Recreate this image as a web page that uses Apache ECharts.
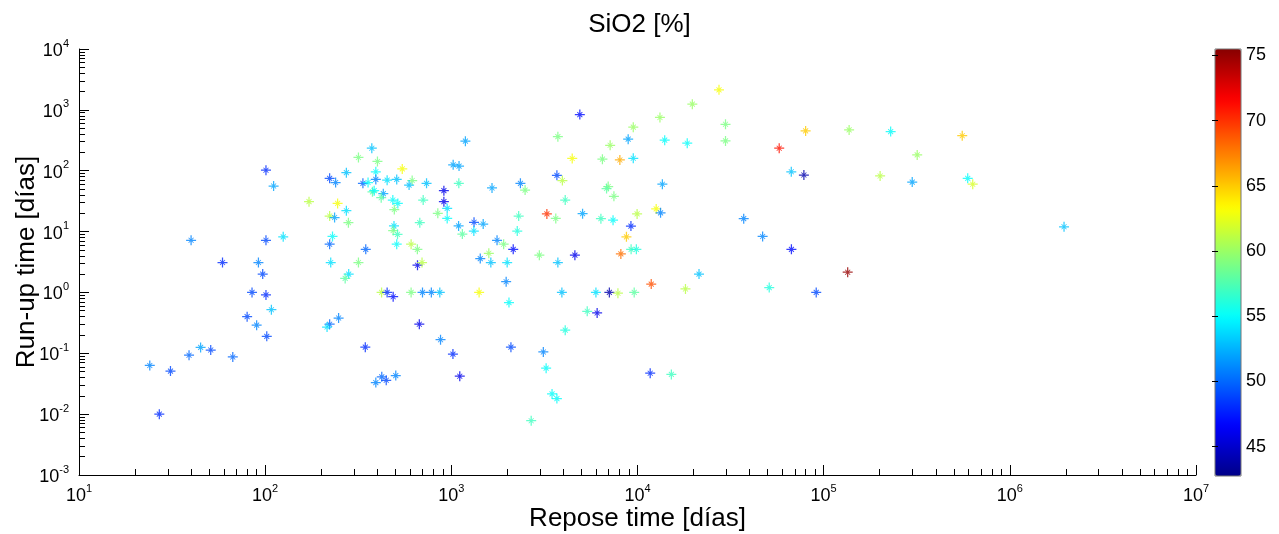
<!DOCTYPE html>
<html>
<head>
<meta charset="utf-8">
<title>SiO2</title>
<script src="https://cdn.jsdelivr.net/npm/echarts@6/dist/echarts.min.js"></script>
<style>
  html, body { margin: 0; padding: 0; background: #fff; }
  #chart { width: 1279px; height: 534px; }
</style>
</head>
<body>
<div id="chart"></div>
<script>
// repose time [days], run-up time [days], SiO2 [%]
var reposeTime = [24, 27, 31, 39, 45, 51, 67, 59, 92, 97, 85, 101, 108, 80, 90, 102, 40, 101, 111, 172,
  101, 125, 374, 317, 401, 273, 222, 239, 335, 357, 393, 393, 452, 509, 545, 616, 593, 736, 377, 385,
  431, 420, 485, 516, 494, 706, 245, 222, 236, 273, 280, 677, 492, 487, 514, 230, 222, 347, 509, 608,
  657, 225, 317, 281, 269, 658, 696, 422, 452, 487, 608, 700, 781, 867, 248, 222, 215, 673, 345, 393,
  423, 447, 503, 875, 1020, 1110, 912, 912, 846, 950, 950, 1097, 1190, 1023, 1100, 1094, 1324, 1483, 1321, 1146,
  1654, 2350, 2490, 2300, 2260, 1760, 1910, 2150, 1590, 1430, 1630, 1995, 2970, 3735, 4610, 1970, 2040, 1410, 3925, 5980,
  7060, 7850, 9600, 11850, 18100, 5370, 6070, 4090, 2090, 3120, 3230, 3475, 3690, 2685, 11700, 15200, 21400, 51000, 91200, 134600,
  67100, 47000, 37200, 8720, 8140, 9240, 9860, 9220, 3260, 3640, 5070, 6360, 7390, 9950, 12600, 13300, 4090, 3690, 3950, 6960,
  6820, 7470, 13600, 4460, 6480, 8040, 9490, 8910, 7130, 3735, 4900, 9490, 13200, 14000, 18500, 19700, 27400, 29700, 29700, 80000,
  137000, 229000, 555000, 57700, 318000, 67000, 78300, 201000, 299000, 594000, 632000, 1955000];
var runupTime = [0.063, 0.010, 0.051, 0.093, 0.125, 0.113, 0.087, 3.1, 3.1, 2.0, 1.0, 0.91, 0.52, 0.40, 0.29, 0.19, 7.2, 102, 56, 31,
  7.2, 8.2, 234, 165, 142, 93, 75, 64, 62, 64, 96, 72, 70, 72, 107, 69, 58, 62, 45, 47,
  42, 36, 33, 29, 23, 33, 29, 18, 17, 22, 14, 14, 12.4, 10.4, 9.0, 8.3, 6.2, 5.1, 6.2, 6.2,
  5.1, 3.1, 3.1, 2.0, 1.7, 2.8, 3.1, 1.0, 1.0, 0.85, 1.0, 1.0, 1.0, 1.0, 0.38, 0.30, 0.27, 0.30, 0.126, 0.033,
  0.041, 0.036, 0.043, 0.167, 0.097, 0.042, 47, 31, 20, 24, 16.4, 62, 306, 125, 119, 12.4, 14.2, 13.3, 10.2, 9.1,
  52, 62, 48, 18, 10.2, 7.2, 6.2, 5.1, 4.4, 3.6, 3.1, 3.1, 4.1, 3.1, 4.1, 1.5, 0.68, 1.0, 1.0, 1.0,
  1.0, 0.97, 1.0, 1.37, 1.14, 0.49, 0.46, 0.24, 0.126, 0.105, 0.057, 0.0215, 0.018, 0.0078, 0.047, 0.045, 2.0, 1.2, 1.0, 2.15,
  5.1, 8.3, 16.3, 8.2, 4.3, 5.1, 5.1, 12.3, 19.5, 16.4, 19.7, 16.3, 15.4, 19.5, 23.6, 20.3, 33, 84, 69, 55,
  51, 38, 60, 159, 155, 150, 160, 330, 262, 363, 835, 520, 750, 318, 283, 1240, 2130, 580, 309, 451,
  468, 439, 376, 234, 182, 96, 85, 82, 65, 75, 60, 12];
var sio2 = [51, 48, 49, 50, 52, 49, 50, 48, 51, 49, 49, 48, 53, 49, 51, 49, 51, 48, 52, 61,
  49, 54, 53, 59, 59, 53, 49, 51, 50, 55, 55, 51, 54, 53, 63, 59, 53, 53, 58, 55,
  52, 58, 55, 55, 59, 57, 63, 61, 52, 54, 59, 57, 54, 59, 57, 55, 50, 50, 55, 61,
  59, 54, 59, 54, 58, 46, 61, 61, 48, 47, 59, 51, 51, 53, 51, 50, 54, 46, 48, 51,
  50, 49, 51, 51, 48, 46, 46, 46, 59, 54, 55, 57, 52, 52, 52, 52, 49, 52, 54, 58,
  52, 51, 59, 57, 56, 51, 59, 47, 60, 51, 53, 54, 59, 53, 46, 51, 55, 63, 53, 54,
  44, 61, 58, 69, 61, 57, 46, 56, 49, 51, 55, 55, 55, 57, 48, 57, 53, 56, 49, 75,
  47, 51, 51, 65, 68, 57, 56, 48, 70, 59, 52, 57, 55, 61, 63, 51, 57, 49, 61, 59,
  58, 59, 52, 63, 59, 66, 54, 52, 60, 59, 47, 60, 60, 55, 55, 60, 63, 59, 59, 65,
  60, 55, 65, 71, 60, 53, 44, 61, 52, 55, 62, 53];

var xDecades = [10, 100, 1000, 10000, 100000, 1000000, 10000000];
var yDecades = [0.001, 0.01, 0.1, 1, 10, 100, 1000, 10000];
var cbarTicks = [45, 50, 55, 60, 65, 70, 75];
var cbarMin = 42.75, cbarMax = 75.5;

function minorTicks(decades) {
  var out = [];
  for (var i = 0; i < decades.length - 1; i++) {
    for (var k = 2; k <= 9; k++) out.push(decades[i] * k);
  }
  return out;
}

function jet(n) {
  var cols = [];
  function c(v) { return Math.round(255 * Math.max(0, Math.min(1, v))); }
  for (var i = 0; i < n; i++) {
    var t = (i + 0.5) / n;
    cols.push('rgb(' + c(1.5 - Math.abs(4 * t - 3)) + ',' + c(1.5 - Math.abs(4 * t - 2)) + ',' + c(1.5 - Math.abs(4 * t - 1)) + ')');
  }
  return cols;
}

function powLabel(v) {
  var e = Math.round(Math.log10(v));
  return '{b|10}{e|' + e + '}';
}

var FONT = 'Liberation Sans, Arial, Helvetica, sans-serif';
var rich = {
  b: { fontSize: 18, fontFamily: FONT, color: '#000', lineHeight: 22, verticalAlign: 'bottom' },
  e: { fontSize: 11, fontFamily: FONT, color: '#000', lineHeight: 11, verticalAlign: 'top' }
};

var star = 'path://M0 7H16V9H0Z M7 0H9V16H7Z M3.5 4.5L4.5 3.5L12.5 11.5L11.5 12.5Z M11.5 3.5L12.5 4.5L4.5 12.5L3.5 11.5Z';

var points = reposeTime.map(function (x, i) { return [x, runupTime[i], sio2[i]]; });

var chart = echarts.init(document.getElementById('chart'));
var option = {
  animation: false,
  backgroundColor: '#fff',
  title: {
    text: 'SiO2 [%]',
    left: 'center',
    top: 7,
    textStyle: { fontFamily: FONT, fontSize: 26, fontWeight: 'normal', color: '#000' }
  },
  grid: [
    { left: 79, top: 49, width: 1117, height: 426, outerBoundsMode: 'none', containLabel: false },
    { left: 1215, top: 49, width: 26, height: 427, outerBoundsMode: 'none', containLabel: false, show: true, z: 10, borderColor: '#777', borderWidth: 1, backgroundColor: 'transparent' }
  ],
  xAxis: [
    {
      type: 'log', gridIndex: 0, min: 10, max: 10000000, position: 'bottom',
      name: 'Repose time [días]', nameLocation: 'middle', nameGap: 31, nameMoveOverlap: false,
      nameTextStyle: { fontFamily: FONT, fontSize: 26, color: '#000' },
      axisLine: { lineStyle: { color: '#000', width: 1 } },
      axisTick: { inside: true, length: 10, customValues: xDecades, lineStyle: { color: '#000' } },
      axisLabel: { customValues: xDecades, formatter: powLabel, rich: rich, margin: 8 },
      splitLine: { show: false }
    },
    {
      type: 'log', gridIndex: 0, min: 10, max: 10000000, position: 'bottom',
      axisLine: { show: false },
      axisTick: { inside: true, length: 6, customValues: minorTicks(xDecades), lineStyle: { color: '#000' } },
      axisLabel: { show: false },
      splitLine: { show: false }
    },
    {
      type: 'value', gridIndex: 1, show: false, min: 0, max: 1
    }
  ],
  yAxis: [
    {
      type: 'log', gridIndex: 0, min: 0.001, max: 10000, position: 'left',
      name: 'Run-up time [días]', nameLocation: 'middle', nameGap: 39, nameRotate: 90, nameMoveOverlap: false,
      nameTextStyle: { fontFamily: FONT, fontSize: 26, color: '#000' },
      axisLine: { lineStyle: { color: '#000', width: 1 } },
      axisTick: { inside: true, length: 10, customValues: yDecades, lineStyle: { color: '#000' } },
      axisLabel: { customValues: yDecades, formatter: powLabel, rich: rich, margin: 10 },
      splitLine: { show: false }
    },
    {
      type: 'log', gridIndex: 0, min: 0.001, max: 10000, position: 'left',
      axisLine: { show: false },
      axisTick: { inside: true, length: 6, customValues: minorTicks(yDecades), lineStyle: { color: '#000' } },
      axisLabel: { show: false },
      splitLine: { show: false }
    },
    {
      type: 'value', gridIndex: 1, min: cbarMin, max: cbarMax, position: 'right', z: 10,
      axisLine: { show: false },
      axisTick: { inside: true, length: 3, customValues: cbarTicks, lineStyle: { color: '#000' } },
      axisLabel: { customValues: cbarTicks, margin: 5, fontFamily: FONT, fontSize: 18, color: '#000' },
      splitLine: { show: false }
    },
    {
      type: 'value', gridIndex: 1, min: cbarMin, max: cbarMax, position: 'left', z: 10,
      axisLine: { show: false },
      axisTick: { inside: true, length: 3, customValues: cbarTicks, lineStyle: { color: '#000' } },
      axisLabel: { show: false },
      splitLine: { show: false }
    }
  ],
  visualMap: {
    type: 'continuous',
    min: cbarMin,
    max: cbarMax,
    dimension: 2,
    seriesIndex: 0,
    calculable: false,
    hoverLink: false,
    left: 1215,
    top: 49,
    padding: 0,
    itemWidth: 26,
    itemHeight: 427,
    inRange: { color: jet(64) }
  },
  series: [
    {
      type: 'scatter',
      xAxisIndex: 0,
      yAxisIndex: 0,
      symbol: star,
      symbolSize: 10,
      data: points
    }
  ]
};
chart.setOption(option);
</script>
</body>
</html>
